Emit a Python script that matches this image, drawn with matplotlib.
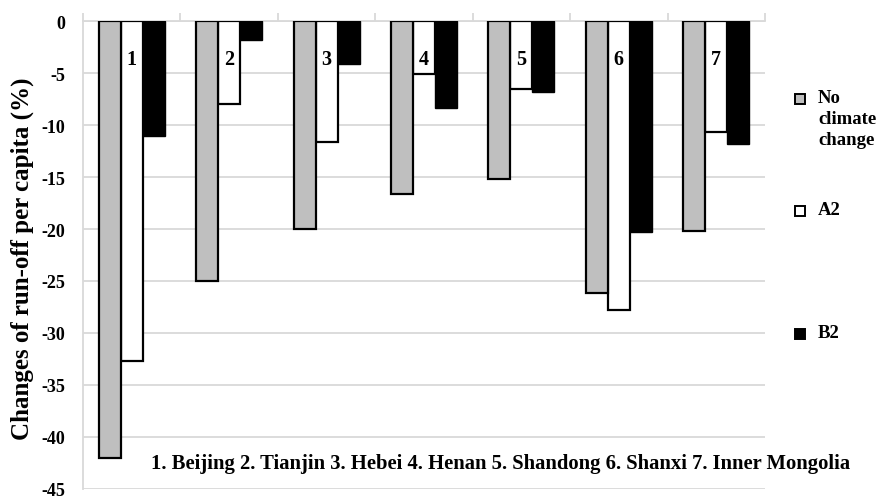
import numpy as np
import matplotlib
matplotlib.use("Agg")
import matplotlib.pyplot as plt
from matplotlib.patches import Rectangle

# Provinces and scenario values (% change in run-off per capita)
regions = ["Beijing", "Tianjin", "Hebei", "Henan", "Shandong", "Shanxi", "Inner Mongolia"]
region_ids = ["1", "2", "3", "4", "5", "6", "7"]
no_climate_change = [-42.0, -25.0, -20.0, -16.6, -15.2, -26.2, -20.2]
a2 = [-32.7, -8.0, -11.6, -5.1, -6.5, -27.8, -10.7]
b2 = [-11.1, -1.8, -4.1, -8.4, -6.8, -20.3, -11.8]
yticks = [0, -5, -10, -15, -20, -25, -30, -35, -40, -45]

plt.rcParams["font.family"] = ["Liberation Serif", "DejaVu Serif"]
plt.rcParams["font.weight"] = "bold"

W, H = 891, 502
fig = plt.figure(figsize=(W / 100, H / 100), dpi=100)
ax = fig.add_axes([83 / W, 1 - 490 / H, (765 - 83) / W, (490 - 22) / H])

x = np.arange(len(regions))
w = 0.226
series = [
    (no_climate_change, "#bfbfbf", "black", 1.6, "No\nclimate\nchange", 3.2),
    (a2, "white", "black", 1.6, "A2", 3.0),
    (b2, "black", "black", 1.0, "B2", 2.9),
]
for i, (vals, fc, ec, lw, lab, z) in enumerate(series):
    ax.bar(x + (i - 1) * w, vals, width=w, color=fc, edgecolor=ec,
           linewidth=lw, zorder=z)

for xi, rid in zip(x, region_ids):
    ax.text(xi, -3.7, rid, ha="center", va="center", fontsize=14.5,
            fontweight="bold", zorder=5)

ax.set_xlim(-0.5, len(regions) - 0.5)
ax.set_ylim(-45, 0)
ax.set_yticks(yticks)
ax.set_yticklabels([str(v) for v in yticks])
ax.yaxis.grid(True, color="#d9d9d9", linewidth=1.3, zorder=0)
ax.set_axisbelow(True)
ax.tick_params(axis="y", length=0, pad=13, labelsize=13)

# Category axis sits at zero, with tick marks between groups
ax.xaxis.tick_top()
ax.set_xticks(np.arange(-0.5, len(regions), 1.0))
ax.set_xticklabels([])
ax.tick_params(axis="x", which="both", direction="out", length=6,
               color="#d9d9d9", width=1.3)
for side in ["bottom", "right"]:
    ax.spines[side].set_visible(False)
for side in ["top", "left"]:
    ax.spines[side].set_color("#d9d9d9")
    ax.spines[side].set_linewidth(1.3)

fig.text(22 / W, 1 - 259 / H, "Changes of run-off per capita (%)",
         rotation=90, ha="center", va="center", fontsize=18, fontweight="bold")

fig.text(501 / W, 1 - 464 / H,
         " ".join(f"{rid}. {name}" for rid, name in zip(region_ids, regions)),
         ha="center", va="center", fontsize=14.9, fontweight="bold")

# Legend entries on the right
legend_rows = [100, 212, 335]
sq = 10
for (vals, fc, ec, lw, lab, z), yy in zip(series, legend_rows):
    fig.patches.append(Rectangle(((800 - sq / 2) / W, 1 - (yy + sq / 2) / H),
                                 sq / W, sq / H, transform=fig.transFigure,
                                 facecolor=fc, edgecolor="black", linewidth=1.4))
    fig.text(818 / W, 1 - (yy - 10) / H, lab, ha="left", va="top",
             fontsize=13.5, fontweight="bold", linespacing=1.3)

fig.savefig("out.png", dpi=100)
